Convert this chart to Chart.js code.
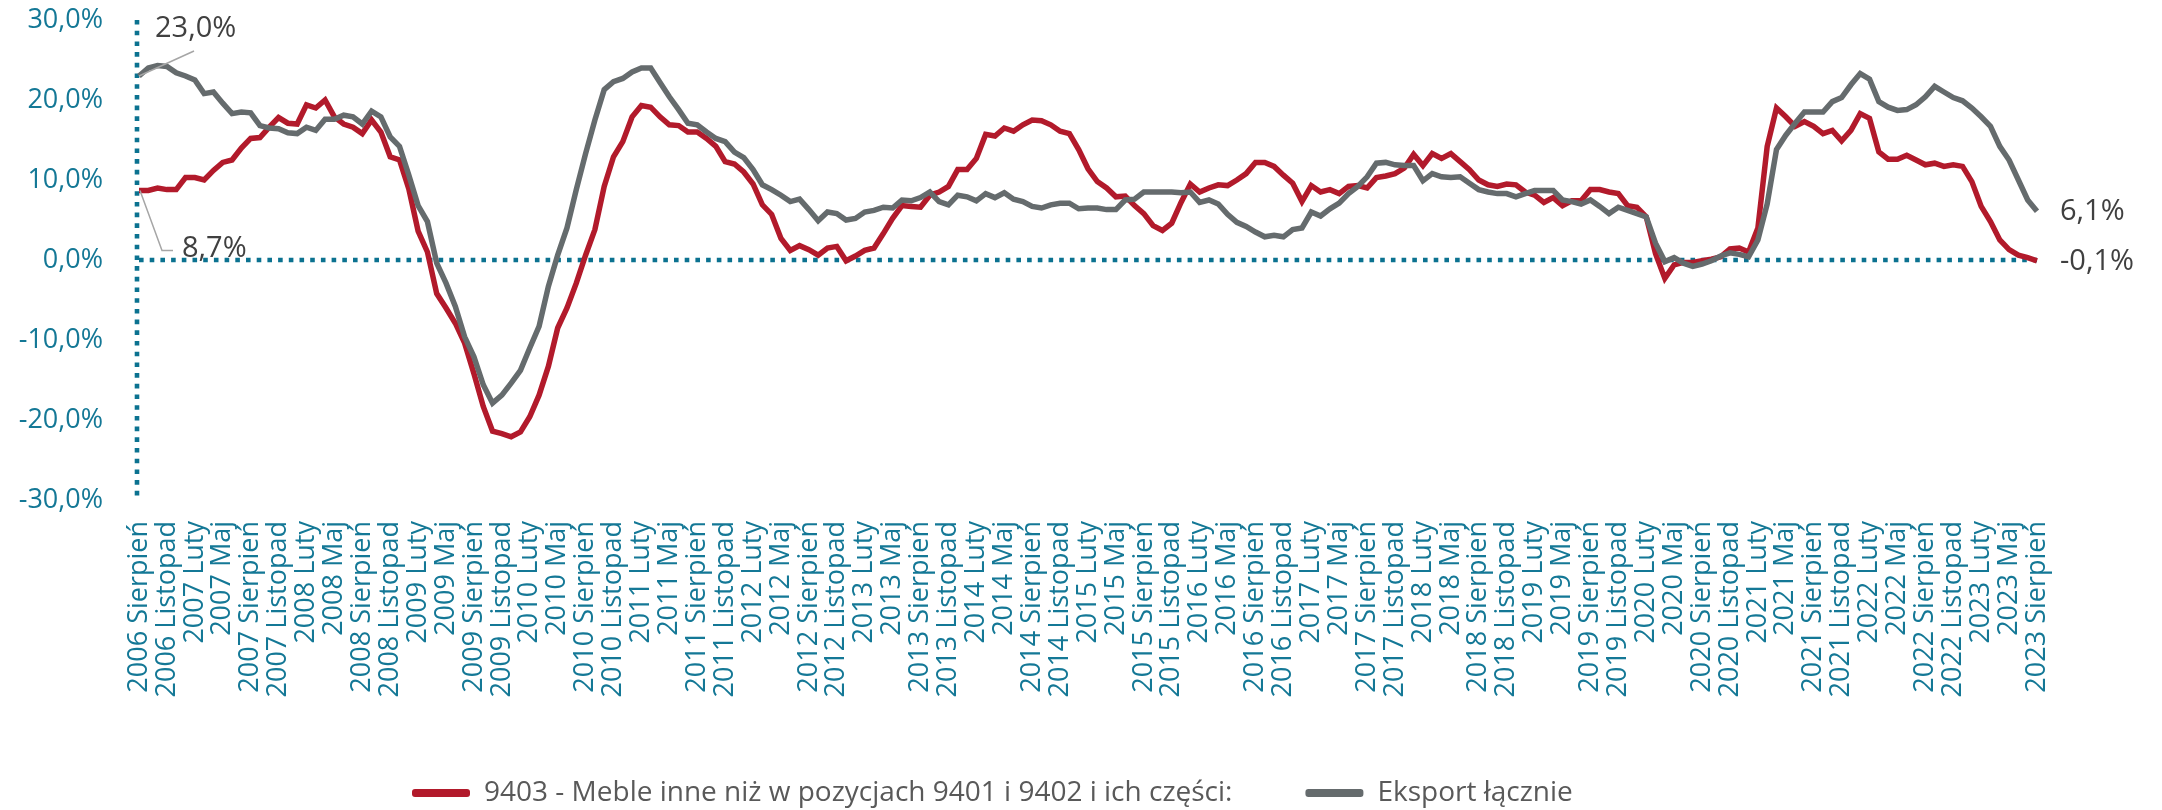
<!DOCTYPE html>
<html lang="pl">
<head>
<meta charset="utf-8">
<title>Eksport mebli 9403</title>
<script src="https://cdn.jsdelivr.net/npm/chart.js@4.4.1/dist/chart.umd.min.js"></script>
<style>
  html, body { margin: 0; padding: 0; background: #ffffff; }
  #wrap { position: relative; width: 2162px; height: 810px; }
</style>
</head>
<body>
<div id="wrap"><canvas id="chart" width="2162" height="810"></canvas></div>
<script>
// ---------- DATA ----------
const monthNames = ['Styczeń','Luty','Marzec','Kwiecień','Maj','Czerwiec','Lipiec','Sierpień','Wrzesień','Październik','Listopad','Grudzień'];
const startYear = 2006;
const startMonthIndex = 7; // Sierpień
const labelEvery = 3;

const seriesNames = [
  '9403 - Meble inne niż w pozycjach 9401 i 9402 i ich części:',
  'Eksport łącznie'
];

// 9403 - Meble inne niż w pozycjach 9401 i 9402 i ich części (%)
const furniture = [
  8.7, 8.7, 9.0, 8.8, 8.8, 10.3, 10.3, 10.0, 11.2, 12.2,
  12.5, 14.0, 15.2, 15.3, 16.6, 17.8, 17.1, 17.0, 19.4, 19.0,
  20.0, 17.9, 17.0, 16.6, 15.8, 17.5, 16.0, 12.9, 12.5, 8.9,
  3.6, 1.0, -4.2, -6.0, -7.9, -10.4, -14.2, -18.3, -21.4, -21.7,
  -22.1, -21.5, -19.6, -16.9, -13.3, -8.5, -6.0, -2.9, 0.6, 3.8,
  9.2, 12.9, 14.8, 17.9, 19.3, 19.1, 17.9, 16.9, 16.8, 16.0,
  16.0, 15.2, 14.2, 12.3, 12.0, 11.0, 9.5, 6.9, 5.7, 2.7,
  1.2, 1.8, 1.3, 0.6, 1.5, 1.7, -0.1, 0.5, 1.2, 1.5,
  3.3, 5.2, 6.8, 6.7, 6.6, 8.1, 8.5, 9.2, 11.3, 11.3,
  12.7, 15.7, 15.5, 16.5, 16.1, 16.9, 17.5, 17.4, 16.9, 16.1,
  15.8, 13.8, 11.4, 9.8, 9.0, 7.9, 8.0, 6.8, 5.8, 4.3,
  3.7, 4.6, 7.2, 9.5, 8.5, 9.0, 9.4, 9.3, 10.0, 10.8,
  12.2, 12.2, 11.7, 10.6, 9.6, 7.3, 9.3, 8.5, 8.8, 8.3,
  9.2, 9.3, 9.0, 10.3, 10.5, 10.8, 11.5, 13.2, 11.8, 13.3,
  12.7, 13.3, 12.3, 11.3, 10.0, 9.4, 9.2, 9.5, 9.4, 8.5,
  8.1, 7.2, 7.8, 6.8, 7.4, 7.4, 8.8, 8.8, 8.5, 8.3,
  6.8, 6.6, 5.4, 0.8, -2.3, -0.6, -0.3, -0.3, -0.1, 0.1,
  0.4, 1.4, 1.5, 1.0, 4.0, 14.2, 19.0, 17.9, 16.7, 17.3,
  16.7, 15.8, 16.2, 14.9, 16.2, 18.3, 17.7, 13.5, 12.6, 12.6,
  13.1, 12.5, 11.9, 12.1, 11.7, 11.9, 11.7, 9.8, 6.7, 4.8,
  2.5, 1.3, 0.6, 0.3, -0.1
];

// Eksport łącznie (%)
const totalExport = [
  23.0, 24.0, 24.3, 24.2, 23.4, 23.0, 22.5, 20.8, 21.0, 19.6,
  18.3, 18.5, 18.4, 16.8, 16.5, 16.4, 15.9, 15.8, 16.6, 16.2,
  17.6, 17.6, 18.1, 17.9, 17.0, 18.6, 17.9, 15.4, 14.2, 10.6,
  6.8, 4.8, -0.4, -2.9, -5.8, -9.6, -12.1, -15.6, -17.9, -16.9,
  -15.4, -13.8, -11.0, -8.3, -3.3, 0.6, 4.0, 8.8, 13.3, 17.5,
  21.3, 22.3, 22.7, 23.5, 24.0, 24.0, 22.2, 20.4, 18.8, 17.1,
  16.9, 16.0, 15.2, 14.8, 13.5, 12.8, 11.3, 9.4, 8.8, 8.1,
  7.3, 7.6, 6.3, 4.9, 6.0, 5.8, 5.0, 5.2, 6.0, 6.2,
  6.6, 6.5, 7.5, 7.4, 7.8, 8.5, 7.3, 6.9, 8.1, 7.9,
  7.4, 8.3, 7.8, 8.4, 7.6, 7.3, 6.7, 6.5, 6.9, 7.1,
  7.1, 6.4, 6.5, 6.5, 6.3, 6.3, 7.5, 7.6, 8.5, 8.5,
  8.5, 8.5, 8.4, 8.5, 7.2, 7.5, 7.0, 5.7, 4.7, 4.2,
  3.5, 2.9, 3.1, 2.9, 3.8, 4.0, 6.0, 5.5, 6.4, 7.1,
  8.3, 9.2, 10.4, 12.1, 12.2, 11.9, 11.8, 11.8, 9.9, 10.8,
  10.4, 10.3, 10.4, 9.6, 8.8, 8.5, 8.3, 8.3, 7.9, 8.3,
  8.7, 8.7, 8.7, 7.5, 7.3, 7.0, 7.5, 6.7, 5.8, 6.6,
  6.2, 5.8, 5.4, 2.1, -0.2, 0.3, -0.4, -0.8, -0.5, -0.1,
  0.5, 0.9, 0.7, 0.4, 2.5, 7.0, 13.8, 15.6, 17.1, 18.5,
  18.5, 18.5, 19.8, 20.3, 21.9, 23.3, 22.6, 19.8, 19.1, 18.7,
  18.8, 19.4, 20.4, 21.7, 21.0, 20.3, 19.9, 19.0, 17.9, 16.7,
  14.2, 12.5, 10.0, 7.5, 6.1
];

const yMin = -30;
const yMax = 30;
const yStep = 10;

// category labels: "2006 Sierpień", "2006 Wrzesień", ...
const categories = furniture.map((_, i) => {
  const m = startMonthIndex + i;
  return (startYear + Math.floor(m / 12)) + ' ' + monthNames[m % 12];
});

// ---------- STYLE ----------
const RED = '#B21A2B';
const GREY = '#656B6D';
const TEAL = '#147896';
const AXIS_TEAL = '#0B7290';
const LABEL_DARK = '#404040';
const LEGEND_TEXT = '#595959';
const FONT = "'Open Sans', 'Noto Sans', 'DejaVu Sans', sans-serif";

const fmtPct = v => v.toFixed(1).replace('.', ',') + '%';

const decorPlugin = {
  id: 'decor',
  beforeDatasetsDraw(chart) {
    const { ctx, chartArea: a, scales: { y } } = chart;
    ctx.save();
    ctx.strokeStyle = AXIS_TEAL;
    ctx.lineWidth = 4.6;
    ctx.lineCap = 'butt';
    ctx.setLineDash([4.6, 6.1]);
    const y0 = y.getPixelForValue(0);
    ctx.beginPath();
    ctx.moveTo(a.left, y0);
    ctx.lineTo(a.right, y0);
    ctx.stroke();
    ctx.beginPath();
    ctx.moveTo(a.left - 2, y.getPixelForValue(yMax));
    ctx.lineTo(a.left - 2, y.getPixelForValue(yMin));
    ctx.stroke();
    ctx.restore();
  },
  afterDatasetsDraw(chart) {
    const { ctx, scales: { x, y } } = chart;
    const last = furniture.length - 1;
    ctx.save();
    ctx.font = "29px " + FONT;
    ctx.fillStyle = LABEL_DARK;
    ctx.textBaseline = 'middle';
    ctx.textAlign = 'left';

    // first total export label with leader
    let px = x.getPixelForValue(0), py = y.getPixelForValue(totalExport[0]);
    ctx.strokeStyle = '#A6A6A6';
    ctx.lineWidth = 1.5;
    ctx.beginPath();
    ctx.moveTo(px, py);
    ctx.lineTo(px + 55, py - 25);
    ctx.stroke();
    ctx.fillText(fmtPct(totalExport[0]), px + 16, py - 47);

    // first furniture label with leader
    px = x.getPixelForValue(0); py = y.getPixelForValue(furniture[0]);
    ctx.beginPath();
    ctx.moveTo(px + 1, py);
    ctx.lineTo(px + 23, py + 60);
    ctx.lineTo(px + 34, py + 60);
    ctx.stroke();
    ctx.fillText(fmtPct(furniture[0]), px + 43, py + 58);

    // last labels
    px = x.getPixelForValue(last);
    ctx.fillText(fmtPct(totalExport[last]), px + 23, y.getPixelForValue(totalExport[last]) + 1);
    ctx.fillText(fmtPct(furniture[last]), px + 23, y.getPixelForValue(furniture[last]) + 1);
    ctx.restore();
  },
  beforeDraw(chart) {
    const lg = chart.legend;
    if (!lg || !lg.lineWidths) return;
    const pad = lg.options.labels.padding;
    const start = (lg.left + pad + lg.right - lg.lineWidths[0]) / 2;
    const shift = 412 - start;
    lg.left += shift;
    lg.right += shift;
  }
};

new Chart(document.getElementById('chart'), {
  type: 'line',
  data: {
    labels: categories,
    datasets: [
      {
        label: seriesNames[0],
        data: furniture,
        borderColor: RED,
        backgroundColor: RED,
        borderWidth: 5.5,
        pointRadius: 0,
        tension: 0,
        order: 1
      },
      {
        label: seriesNames[1],
        data: totalExport,
        borderColor: GREY,
        backgroundColor: GREY,
        borderWidth: 5.5,
        pointRadius: 0,
        tension: 0,
        order: 0
      }
    ]
  },
  options: {
    responsive: false,
    animation: false,
    devicePixelRatio: 1,
    layout: { padding: { top: 20, right: 125, left: 0, bottom: 0 } },
    plugins: {
      tooltip: { enabled: false },
      legend: {
        position: 'bottom',
        maxHeight: 104,
        labels: {
          color: LEGEND_TEXT,
          font: { family: FONT, size: 28 },
          boxWidth: 58,
          boxHeight: 8,
          padding: 73,
          useBorderRadius: true,
          borderRadius: 3,
          sort: (a, b) => a.datasetIndex - b.datasetIndex,
          generateLabels(chart) {
            const items = Chart.defaults.plugins.legend.labels.generateLabels(chart);
            items.forEach(it => { it.lineWidth = 0; });
            return items;
          }
        }
      }
    },
    scales: {
      x: {
        type: 'category',
        offset: false,
        grid: { display: false, drawTicks: false },
        border: { display: false },
        ticks: {
          autoSkip: false,
          minRotation: 90,
          maxRotation: 90,
          padding: 21,
          color: TEAL,
          font: { family: FONT, size: 27 },
          callback: (value, index) => (index % labelEvery === 0 ? categories[index] : '')
        },
        afterFit(scale) { scale.height = 206; }
      },
      y: {
        min: yMin,
        max: yMax,
        grid: { display: false, drawTicks: false },
        border: { display: false },
        ticks: {
          stepSize: yStep,
          padding: 36,
          color: TEAL,
          font: { family: FONT, size: 27 },
          callback: v => fmtPct(v)
        },
        afterFit(scale) {
          scale.width = 139;
          scale.paddingTop = 0;
          scale.paddingBottom = 0;
        }
      }
    }
  },
  plugins: [decorPlugin]
});
</script>
</body>
</html>
